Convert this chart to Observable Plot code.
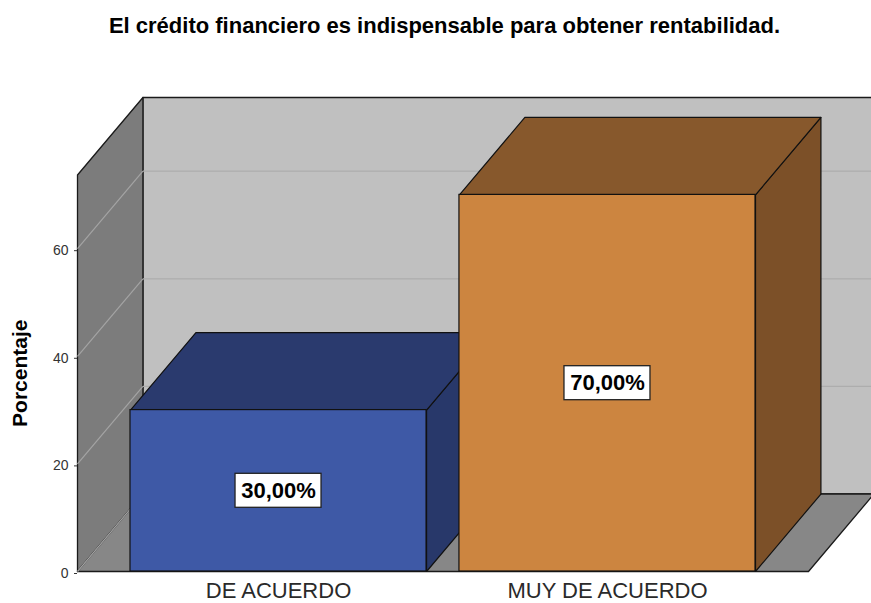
<!DOCTYPE html>
<html>
<head>
<meta charset="utf-8">
<script src="https://cdn.jsdelivr.net/npm/d3@7"></script>
<script src="https://cdn.jsdelivr.net/npm/@observablehq/plot@0.6"></script>
<style>
  body { margin: 0; background: #fff; font-family: "Liberation Sans", Arial, sans-serif; }
  #title { height: 60px; width: 871px; box-sizing: border-box; padding-top: 15px; padding-left: 18px;
           text-align: center; font-size: 22px; line-height: 22px; font-weight: bold; color: #000; }
  #chart svg { overflow: hidden; display: block; }
</style>
</head>
<body>
<div id="title"></div>
<div id="chart"></div>
<script>
// ---- data ----
const titleText = "El crédito financiero es indispensable para obtener rentabilidad.";
const yLabel = "Porcentaje";
const categories = ["DE ACUERDO", "MUY DE ACUERDO"];
const percentages = [30, 70];
const valueLabels = ["30,00%", "70,00%"];
const yTicks = [0, 20, 40, 60];

// ---- style / layout ----
const frontColors = ["#3e59a6", "#cc8540"];
const topColors = ["#2a3a6e", "#87582c"];
const sideColors = ["#28386a", "#7c5028"];
const wallTop = 73.7;     // height of walls (value units)
const depthX = 0.179;     // oblique depth offset, x (category units)
const depthY = 14.4;      // oblique depth offset, y (value units)
const barWidth = 0.81;
const barGap = 0.09;
const nCat = categories.length;

document.getElementById("title").textContent = titleText;

const centers = categories.map((c, i) => nCat / 2 + (i - (nCat - 1) / 2) * (barWidth + barGap));

function poly(id, pts, fill) {
  return pts.map(([x, y]) => ({id, x, y, fill}));
}

// walls and floor
const walls = [
  ...poly("back", [[depthX, depthY], [nCat + depthX, depthY], [nCat + depthX, wallTop + depthY], [depthX, wallTop + depthY]], "#c0c0c0"),
  ...poly("left", [[0, 0], [depthX, depthY], [depthX, wallTop + depthY], [0, wallTop]], "#7c7c7c"),
  ...poly("floor", [[0, 0], [nCat, 0], [nCat + depthX, depthY], [depthX, depthY]], "#878787")
];

const backGrid = yTicks.filter(t => t > 0).map(t => ({x1: depthX, x2: nCat + depthX, y1: t + depthY, y2: t + depthY}));
const leftGrid = yTicks.map(t => ({x1: 0, x2: depthX, y1: t, y2: t + depthY}));

// bar side and top faces
const barFaces = [];
const bars = categories.map((c, i) => {
  const x1 = centers[i] - barWidth / 2, x2 = centers[i] + barWidth / 2, v = percentages[i];
  barFaces.push(...poly("side" + i, [[x2, 0], [x2 + depthX, depthY], [x2 + depthX, v + depthY], [x2, v]], sideColors[i]));
  barFaces.push(...poly("top" + i, [[x1, v], [x2, v], [x2 + depthX, v + depthY], [x1 + depthX, v + depthY]], topColors[i]));
  return {category: c, value: v, label: valueLabels[i], x1, x2, cx: centers[i], fill: frontColors[i]};
});

const chart = Plot.plot({
  width: 871,
  height: 543,
  marginLeft: 77,
  marginRight: 0,
  marginTop: 37,
  marginBottom: 32,
  style: {fontFamily: "'Liberation Sans', Arial, sans-serif", background: "#fff"},
  x: {domain: [0, (871 - 77) / 365.5], axis: null},
  y: {domain: [0, wallTop + depthY], axis: null, label: null},
  color: {type: "identity"},
  marks: [
    Plot.line(walls, {x: "x", y: "y", z: "id", fill: "fill", stroke: "#1a1a1a", strokeWidth: 1.3, curve: "linear-closed"}),
    Plot.link(backGrid, {x1: "x1", x2: "x2", y1: "y1", y2: "y2", stroke: "#adadad", strokeWidth: 1.2}),
    Plot.link(leftGrid, {x1: "x1", x2: "x2", y1: "y1", y2: "y2", stroke: "#a4a4a4", strokeWidth: 1.2}),
    Plot.line(barFaces, {x: "x", y: "y", z: "id", fill: "fill", stroke: "#111", strokeWidth: 1.2, curve: "linear-closed"}),
    Plot.rect(bars, {x1: "x1", x2: "x2", y1: 0, y2: "value", fill: "fill", stroke: "#111", strokeWidth: 1.2}),
    Plot.axisY(yTicks, {tickSize: 3, tickPadding: 6, fontSize: 14, color: "#333", label: null, dy: 2}),
    Plot.rect(bars, {x1: "cx", x2: "cx", y1: d => d.value / 2, y2: d => d.value / 2,
      insetLeft: -43, insetRight: -43, insetTop: -17, insetBottom: -17, fill: "#fff", stroke: "#222", strokeWidth: 1.3}),
    Plot.text(bars, {x: "cx", y: d => d.value / 2, text: "label", fontSize: 22, fontWeight: "bold", fill: "#000"}),
    Plot.text(bars, {x: "cx", y: 0, text: "category", fontSize: 22, fill: "#2a2a2a", dy: 19}),
    Plot.text([yLabel], {x: 0, y: wallTop / 2, text: d => d, rotate: -90, dx: -57, fontSize: 21, fontWeight: "bold", fill: "#000"})
  ]
});
document.getElementById("chart").appendChild(chart);
</script>
</body>
</html>
